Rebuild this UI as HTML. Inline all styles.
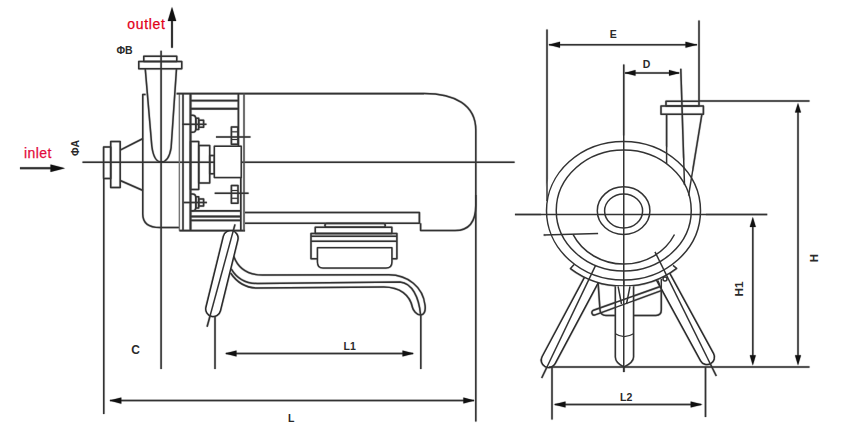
<!DOCTYPE html>
<html><head><meta charset="utf-8"><style>
html,body{margin:0;padding:0;background:#fff;}
body{width:844px;height:434px;overflow:hidden;}
svg{display:block;}
text{font-family:"Liberation Sans",sans-serif;}
</style></head><body>
<svg width="844" height="434" viewBox="0 0 844 434">
<rect x="0" y="0" width="844" height="434" fill="#fff"/>
<g>
<defs><g id="drw"><g fill="none" stroke="#333" stroke-width="1.5" stroke-linejoin="round">

<!-- ===== LEFT VIEW ===== -->
<!-- outlet arrow -->
<line x1="172" y1="20" x2="172" y2="47.7" stroke-width="2"/>
<polygon points="172,7 167.8,21 176.2,21" fill="#111" stroke="none"/>
<!-- inlet arrow -->
<line x1="20" y1="168.2" x2="51" y2="168.2" stroke-width="2"/>
<polygon points="65,168.2 50.5,164.5 50.5,171.9" fill="#111" stroke="none"/>

<!-- outlet flange -->
<rect x="143.75" y="56.25" width="33" height="5.25"/>
<rect x="138.75" y="61.5" width="43" height="7.25"/>

<!-- vertical center line -->
<line x1="161.1" y1="50.75" x2="161.1" y2="369"/>
<!-- horizontal center line -->
<line x1="82.5" y1="162.3" x2="514.6" y2="162.3"/>

<!-- neck U -->
<path d="M145.25,68.75 L151.8,146 C153.2,157 156.5,162 161.2,162 C166,162 169.6,157 171.1,148 L176.5,68.75"/>

<!-- volute left -->
<path d="M145.6,94.4 L142.75,94.4 L142.75,214 C142.75,223 149,227.6 160,227.6 L179.4,227.6"/>

<!-- inlet flange -->
<rect x="103.6" y="146.9" width="7.1" height="31.6"/>
<rect x="110.7" y="141.6" width="9.5" height="45.9"/>
<line x1="120.2" y1="150.2" x2="143" y2="138.5"/>
<line x1="120.2" y1="180.5" x2="143" y2="190.5"/>

<!-- casing back -->
<line x1="179.4" y1="93.75" x2="179.4" y2="230.6" stroke="#777" stroke-width="1.2"/>
<line x1="183" y1="93.75" x2="183" y2="230.6"/>
<line x1="190.5" y1="93.75" x2="190.5" y2="230.6" stroke-width="2"/>
<line x1="179.4" y1="230.6" x2="245" y2="230.6" stroke-width="1.6"/>
<!-- top line motor -->
<line x1="176.6" y1="93.6" x2="424" y2="93.6" stroke-width="1.6"/>

<!-- bracket top box -->
<line x1="190.5" y1="100.6" x2="238.3" y2="100.6" stroke-width="1.8"/>
<line x1="190.5" y1="108.75" x2="238.3" y2="108.75" stroke-width="1.8"/>
<line x1="238.4" y1="93.6" x2="238.4" y2="146" stroke-width="1.6"/>
<line x1="240.8" y1="177" x2="240.8" y2="230.6" stroke-width="1.6"/>
<!-- bracket bottom box -->
<line x1="190.5" y1="210.8" x2="240.5" y2="210.8" stroke-width="1.8"/>
<line x1="190.5" y1="216.5" x2="240.5" y2="216.5" stroke-width="1.8"/>
<line x1="190.5" y1="220.3" x2="240.5" y2="220.3" stroke-width="1.8"/>

<!-- motor start -->
<line x1="244" y1="93.6" x2="244" y2="230.6" stroke="#555"/>

<!-- bolts left -->
<g>
<path d="M190.5,115.3 L192.5,115.3 Q195.8,115.3 195.8,119 L195.8,129 Q195.8,132.3 192.5,132.3 L190.5,132.3"/>
<rect x="195.8" y="118.2" width="2.9" height="11.2"/>
<rect x="198.7" y="120.3" width="4.9" height="7"/>
<line x1="182.5" y1="124.3" x2="206.5" y2="124.3"/>
</g>
<g>
<path d="M190.5,194 L192.5,194 Q195.8,194 195.8,197.5 L195.8,207.5 Q195.8,210.8 192.5,210.8 L190.5,210.8"/>
<rect x="195.8" y="196.8" width="2.9" height="11.2"/>
<rect x="198.7" y="199" width="4.9" height="7"/>
<line x1="183.7" y1="202.5" x2="206.9" y2="202.5"/>
</g>
<!-- nuts right -->
<rect x="231.4" y="126.9" width="6.6" height="17.4"/>
<line x1="231.4" y1="131.8" x2="238" y2="131.8" stroke-width="1"/>
<line x1="231.4" y1="139.5" x2="238" y2="139.5" stroke-width="1"/>
<line x1="216" y1="136.9" x2="250.5" y2="136.9"/>
<rect x="231.4" y="185.6" width="6.6" height="17.6"/>
<line x1="231.4" y1="190.5" x2="238" y2="190.5" stroke-width="1"/>
<line x1="231.4" y1="198.3" x2="238" y2="198.3" stroke-width="1"/>
<line x1="214.7" y1="193.25" x2="248.6" y2="193.25"/>

<!-- hub -->
<rect x="190.5" y="141.6" width="8.2" height="47.8"/>
<rect x="198.7" y="145.6" width="11" height="37.4"/>
<rect x="209.7" y="155.6" width="4.7" height="18.2"/>
<rect x="214.4" y="146.2" width="26.8" height="31.3" fill="#fff"/>

<!-- motor outline -->
<path d="M424,93.4 C455,93.4 475.8,105 475.8,130 L475.8,205 C475.8,220 470,230.6 455,230.6 L420.6,230.6 L420.6,223.3"/>
<!-- motor base foot -->
<path d="M245,212.5 L419.4,212.5 L419.4,223.3 L245,223.3" stroke-width="1.6"/>

<!-- terminal box -->
<rect x="325" y="223.5" width="60.2" height="3.7" rx="1.5" stroke-width="1.6"/>
<rect x="315.25" y="227.2" width="76.6" height="6.3"/>
<rect x="311" y="233.5" width="85.9" height="25.3"/>
<line x1="311" y1="236.3" x2="396.9" y2="236.3" stroke-width="1.6"/>
<line x1="311" y1="241.3" x2="396.9" y2="241.3"/>
<path d="M317.5,247.8 L391.9,247.8 L391.9,262 C391.9,266 390,268 386,268 L323,268 C319.5,268 317.5,266 317.5,262 Z" fill="#fff"/>

<!-- left leg -->
<line x1="230.6" y1="238.1" x2="213.2" y2="309" stroke="#2b2b2b" stroke-width="16.4" stroke-linecap="round"/>
<line x1="230.6" y1="238.1" x2="213.2" y2="309" stroke="#fff" stroke-width="13.4" stroke-linecap="round"/>
<line x1="235" y1="224.4" x2="207.1" y2="326.7"/>
<!-- base tube -->
<path d="M233.7,256.3 C238,268 246,275 262.5,275.1 L388.8,274.8 C408,275 423,287 425,305 C426,312 423.5,315 420.6,315 C416.5,315 413,310 412.5,307.5 C410,295 400,287 383.8,286.9 L257.5,288.1 C245,288 236,281 230.6,273"/>
<path d="M231.2,268.8 C236,277 245,283.5 257.5,283.5 L400,281.9 C412,283 419,297 420.6,315"/>

<!-- L1 dimension -->
<line x1="215" y1="316" x2="215" y2="369"/>
<line x1="420.8" y1="315" x2="420.8" y2="369"/>
<line x1="226" y1="353.5" x2="413" y2="353.5"/>
<polygon points="225,353.5 236.5,350.5 236.5,356.5" fill="#111" stroke="none"/>
<polygon points="414,353.5 402.5,350.5 402.5,356.5" fill="#111" stroke="none"/>

<!-- L dimension -->
<line x1="103.75" y1="178.5" x2="103.75" y2="414"/>
<line x1="475.8" y1="195" x2="475.8" y2="421.6"/>
<line x1="110" y1="400.6" x2="474" y2="400.6"/>
<polygon points="109.5,400.6 121.3,397.5 121.3,403.7" fill="#111" stroke="none"/>
<polygon points="474.5,400.6 463.4,397.6 463.4,403.6" fill="#111" stroke="none"/>

<!-- ===== RIGHT VIEW ===== -->
<!-- legs (drawn first, tops hidden by plate) -->
<line x1="599.4" y1="265" x2="548.6" y2="360.2" stroke="#2b2b2b" stroke-width="16.2" stroke-linecap="round"/>
<line x1="599.4" y1="265" x2="548.6" y2="360.2" stroke="#fff" stroke-width="13.2" stroke-linecap="round"/>
<line x1="656.75" y1="265" x2="707.1" y2="357.25" stroke="#2b2b2b" stroke-width="16.2" stroke-linecap="round"/>
<line x1="656.75" y1="265" x2="707.1" y2="357.25" stroke="#fff" stroke-width="13.2" stroke-linecap="round"/>
<!-- white plate cover -->
<ellipse cx="623.5" cy="210.75" rx="82.6" ry="75.25" fill="#fff" stroke="none"/>
<line x1="595.5" y1="265.6" x2="541.7" y2="378"/>
<line x1="655" y1="251.9" x2="716.3" y2="376"/>

<!-- E dimension -->
<line x1="547" y1="29.5" x2="547" y2="201"/>
<line x1="699" y1="20.5" x2="699" y2="101.2"/>
<line x1="549" y1="44.7" x2="697" y2="44.7"/>
<polygon points="548.5,44.7 560,41.7 560,47.7" fill="#111" stroke="none"/>
<polygon points="697,44.7 685.5,41.7 685.5,47.7" fill="#111" stroke="none"/>
<!-- D dimension -->
<line x1="623.75" y1="64.5" x2="623.75" y2="372"/>
<line x1="680.8" y1="68.7" x2="684.5" y2="185"/>
<line x1="625" y1="72.9" x2="679" y2="72.9"/>
<polygon points="624.5,72.9 635.5,70 635.5,75.8" fill="#111" stroke="none"/>
<polygon points="680,72.9 669,70 669,75.8" fill="#111" stroke="none"/>

<!-- outlet flange right view -->
<rect x="666" y="101.2" width="33" height="4.8"/>
<rect x="661" y="106" width="42.4" height="8.25"/>
<line x1="666.6" y1="114.25" x2="666.6" y2="163.5"/>
<line x1="701.9" y1="114.25" x2="688.6" y2="195.5"/>

<!-- H top ext -->
<line x1="699" y1="101" x2="809.5" y2="101"/>
<!-- plate -->
<path d="M574.1,264.6 L570.5,268.6 A82.6,75.25 0 0 0 676.6,268.4 L673,265.4"/>
<!-- circles -->
<ellipse cx="623.5" cy="210.75" rx="77" ry="69.3"/>
<ellipse cx="623.75" cy="210.5" rx="67.5" ry="60.5"/>
<ellipse cx="623.6" cy="210.65" rx="26.3" ry="23.8"/>
<ellipse cx="623.6" cy="211" rx="19" ry="17"/>
<!-- impeller arc -->
<path d="M573,234.4 A56.4,52.5 0 0 0 674.5,234.5"/>
<!-- tangent line -->
<line x1="543.7" y1="235" x2="598.1" y2="233.4"/>
<!-- horizontal center line right -->
<line x1="515" y1="214.5" x2="767.2" y2="214.5"/>

<!-- box under -->
<path d="M598.1,282.5 L600,310 C600.3,313.5 602,315.4 606,315.4 L656,315.4 C659.5,315.4 661.3,313.5 661.3,310 L661.3,279"/>
<!-- shaft -->
<path d="M615.4,286.3 L615.4,357 C615.4,361 620,365 624,367 C628,365 633.5,361 633.5,357 L633.5,286.3" fill="#fff"/>
<path d="M618.1,286.3 L621.5,304 M630,286.3 L626.5,304"/>
<path d="M615.4,333.8 Q624,339.5 633.5,333.8" stroke-width="1.2"/>
<!-- diagonal bar -->
<path d="M661,286.3 L593.5,310.2 A2.45,2.45 0 0 0 595.2,314.9 L661.3,290.6"/>
<path d="M658,280.6 L659.6,285"/>
<line x1="623.75" y1="280" x2="623.75" y2="372"/>
<circle cx="665" cy="279" r="2" fill="#fff"/>

<!-- baseline / H -->
<line x1="549" y1="367" x2="809.5" y2="367"/>
<line x1="552" y1="367" x2="552" y2="419.5"/>
<line x1="705.5" y1="367" x2="705.5" y2="417"/>
<!-- L2 -->
<line x1="555" y1="404.5" x2="701" y2="404.5"/>
<polygon points="553.7,404.5 565.5,401.4 565.5,407.6" fill="#111" stroke="none"/>
<polygon points="702.5,404.5 690.7,401.4 690.7,407.6" fill="#111" stroke="none"/>
<!-- H1 -->
<line x1="752.8" y1="226" x2="752.8" y2="356"/>
<polygon points="752.8,216.9 749.8,227 755.8,227" fill="#111" stroke="none"/>
<polygon points="752.8,365.4 749.8,355.2 755.8,355.2" fill="#111" stroke="none"/>
<!-- H -->
<line x1="798" y1="111" x2="798" y2="356"/>
<polygon points="798,103 795,112.4 801,112.4" fill="#111" stroke="none"/>
<polygon points="798,365.4 795,355.2 801,355.2" fill="#111" stroke="none"/>
</g>

</g></defs>
<use href="#drw" x="-0.7" y="0" opacity="0.15"/>
<use href="#drw" x="0.7" y="0" opacity="0.15"/>
<use href="#drw" x="0" y="-0.7" opacity="0.15"/>
<use href="#drw" x="0" y="0.7" opacity="0.15"/>
<use href="#drw"/>
<!-- TEXT -->
<g font-family="Liberation Sans, sans-serif">
<text x="127.3" y="28.8" font-size="14" fill="#e2001a" stroke="#e2001a" stroke-width="0.25" letter-spacing="0.65">outlet</text>
<text x="23.9" y="157.9" font-size="14" fill="#e20a3c" stroke="#e20a3c" stroke-width="0.25" letter-spacing="0.45">inlet</text>
<g font-weight="bold" font-size="10.5" fill="#2a2a2a">
<text x="116.5" y="53.5">ΦB</text>
<text x="79.3" y="156" transform="rotate(-90 79.3 156)">ΦA</text>
<text x="131.3" y="354" font-size="12">C</text>
<text x="288" y="422.3">L</text>
<text x="343.5" y="349.5">L1</text>
<text x="609.8" y="38.2">E</text>
<text x="642.8" y="67.8">D</text>
<text x="620" y="400.5">L2</text>
<text x="817.6" y="262.3" font-size="11.5" transform="rotate(-90 817.6 262.3)">H</text>
<text x="742.9" y="296.4" font-size="11.8" transform="rotate(-90 742.9 296.4)">H1</text>
</g>
</g>
</g>
</svg>
</body></html>
